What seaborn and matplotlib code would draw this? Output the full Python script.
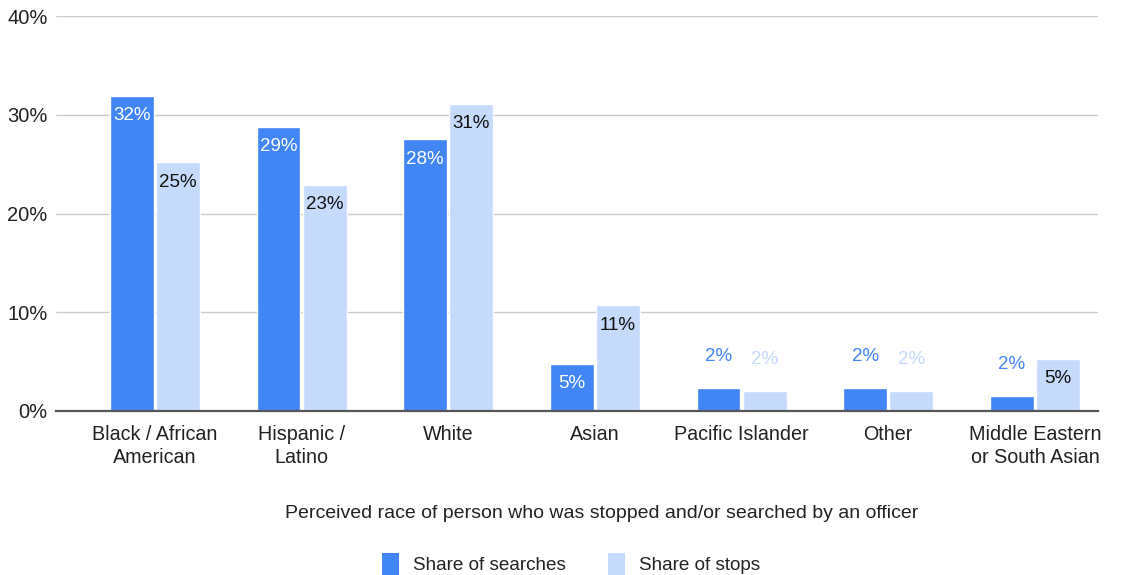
import matplotlib
matplotlib.use("Agg")
import matplotlib.pyplot as plt
import seaborn as sns
import pandas as pd
from matplotlib.patches import Patch
from matplotlib.ticker import FuncFormatter

categories = ["Black / African\nAmerican", "Hispanic /\nLatino", "White", "Asian",
              "Pacific Islander", "Other", "Middle Eastern\nor South Asian"]
share_searches = [31.9, 28.8, 27.5, 4.8, 2.3, 2.3, 1.5]
share_stops = [25.2, 22.9, 31.1, 10.7, 2.0, 2.0, 5.3]
series_names = ["Share of searches", "Share of stops"]
y_ticks = [0, 10, 20, 30, 40]

blue = "#4285F4"
light = "#C6DAFC"

df = pd.DataFrame({
    "race": categories * 2,
    "value": share_searches + share_stops,
    "series": [series_names[0]] * len(categories) + [series_names[1]] * len(categories),
})

sns.set_theme(style="white")
plt.rcParams["font.family"] = ["Liberation Sans", "DejaVu Sans"]

fig = plt.figure(figsize=(11.25, 5.75), dpi=100)
ax = fig.add_axes([56 / 1125, 1 - 411 / 575, (1098 - 56) / 1125, (411 - 16) / 575])

sns.barplot(data=df, x="race", y="value", hue="series", order=categories,
            hue_order=series_names, palette=[blue, light], width=0.63, gap=0.05,
            saturation=1, legend=False, ax=ax, zorder=3)

ax.set_ylim(0, 40)
ax.set_xlim(-0.675, 6.43)
ax.set_yticks(y_ticks)
ax.yaxis.set_major_formatter(FuncFormatter(lambda v, _: f"{v:.0f}%"))
ax.grid(axis="y", color="#cccccc", linewidth=1, zorder=0)
ax.grid(axis="x", visible=False)
for side in ["left", "right", "top"]:
    ax.spines[side].set_visible(False)
ax.spines["bottom"].set_color("#555555")
ax.spines["bottom"].set_linewidth(1.6)
ax.spines["bottom"].set_zorder(4)
ax.tick_params(axis="y", length=0, pad=6, labelsize=14.5, labelcolor="#222222")
ax.tick_params(axis="x", length=0, pad=10, labelsize=14.2, labelcolor="#222222")
for lbl in ax.get_xticklabels():
    lbl.set_linespacing(1.3)
ax.set_ylabel("")
ax.set_xlabel("")

# value labels: inside the bar top when tall, above in the bar colour when short
for container, vals, col, inner_col in zip(ax.containers, [share_searches, share_stops],
                                          [blue, light], ["white", "#111111"]):
    for bar, v in zip(container, vals):
        cx = bar.get_x() + bar.get_width() / 2
        txt = f"{round(v):.0f}%"
        if v >= 4:
            ax.annotate(txt, (cx, v), xytext=(0, -20), textcoords="offset pixels",
                        ha="center", va="center", fontsize=13.5, color=inner_col, zorder=5)
        else:
            ax.annotate(txt, (cx, v), xytext=(0, 32), textcoords="offset pixels",
                        ha="center", va="center", fontsize=13.5, color=col, zorder=5)

fig.text(602 / 1125, 1 - 514 / 575,
         "Perceived race of person who was stopped and/or searched by an officer",
         ha="center", va="center", fontsize=14, color="#222222")

handles = [Patch(facecolor=blue, edgecolor="none", label=series_names[0]),
           Patch(facecolor=light, edgecolor="none", label=series_names[1])]
fig.legend(handles=handles, loc="center", bbox_to_anchor=(571 / 1125, 1 - 564 / 575),
           ncol=2, frameon=False, fontsize=13.6, handlelength=0.9, handleheight=1.35,
           handletextpad=0.75, columnspacing=2.2, labelcolor="#222222")

fig.savefig("out.png", dpi=100, facecolor="white")
